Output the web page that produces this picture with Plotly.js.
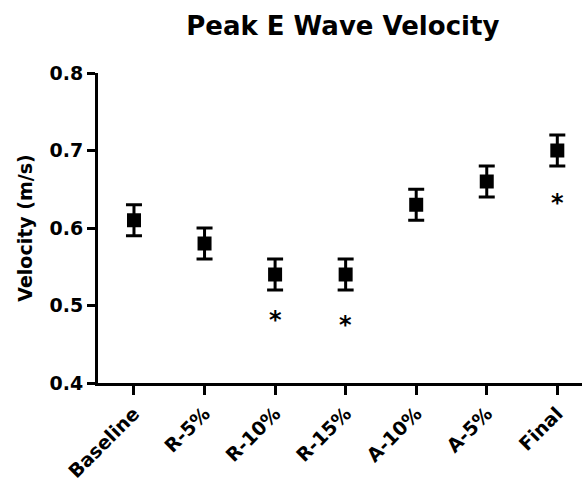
<!DOCTYPE html>
<html>
<head>
<meta charset="utf-8">
<script src="https://cdn.plot.ly/plotly-3.0.1.min.js"></script>
<style>html,body{margin:0;padding:0;background:#fff;}#chart{width:582px;height:485px;}</style>
</head>
<body>
<div id="chart"></div>
<script>
const categories = ["Baseline", "R-5%", "R-10%", "R-15%", "A-10%", "A-5%", "Final"];
const velocity = [0.61, 0.58, 0.54, 0.54, 0.63, 0.66, 0.70];
const errors = [0.02, 0.02, 0.02, 0.02, 0.02, 0.02, 0.02];
const starY = [null, null, 0.485, 0.479, null, null, 0.636];
const yTicks = [0.4, 0.5, 0.6, 0.7, 0.8];

const FONT = "'DejaVu Sans', sans-serif";
const xIdx = categories.map((c, i) => i);

const annotations = [];
starY.forEach((y, i) => {
  if (y !== null) {
    annotations.push({
      x: i, y: y, xref: "x", yref: "y", text: "<b>*</b>", showarrow: false,
      font: {family: FONT, size: 24, color: "#000"}, yanchor: "middle", yshift: -3
    });
  }
});

const trace = {
  x: xIdx, y: velocity, type: "scatter", mode: "markers",
  marker: {symbol: "square", size: 14, color: "#000"},
  error_y: {type: "data", array: errors, visible: true, color: "#000", thickness: 3, width: 8},
  cliponaxis: false, hoverinfo: "skip"
};

const layout = {
  width: 582, height: 485,
  margin: {l: 98, r: 0, t: 73, b: 102},
  paper_bgcolor: "#fff", plot_bgcolor: "#fff",
  showlegend: false,
  title: {text: "<b>Peak E Wave Velocity</b>", font: {family: FONT, size: 26, color: "#000"},
          x: 0.589, xanchor: "center", y: 0.947, yanchor: "middle"},
  xaxis: {
    range: [-0.51, 6.35], tickmode: "array", tickvals: xIdx,
    ticktext: categories.map(c => "<b>" + c + "</b>"),
    tickangle: -45, ticks: "outside", ticklen: 9, tickwidth: 3, tickcolor: "#000",
    showline: true, linewidth: 3, linecolor: "#000", showgrid: false, zeroline: false,
    tickfont: {family: FONT, size: 19, color: "#000"}
  },
  yaxis: {
    range: [0.4, 0.8], tickmode: "array", tickvals: yTicks,
    ticktext: yTicks.map(v => "<b>" + v.toFixed(1) + "</b>"),
    ticks: "outside", ticklen: 8, tickwidth: 3, tickcolor: "#000",
    showline: true, linewidth: 3, linecolor: "#000", showgrid: false, zeroline: false,
    tickfont: {family: FONT, size: 19, color: "#000"},
    title: {text: "<b>Velocity (m/s)</b>", font: {family: FONT, size: 19, color: "#000"}, standoff: 12}
  },
  annotations: annotations
};

Plotly.newPlot("chart", [trace], layout, {displayModeBar: false, staticPlot: true});
</script>
</body>
</html>
